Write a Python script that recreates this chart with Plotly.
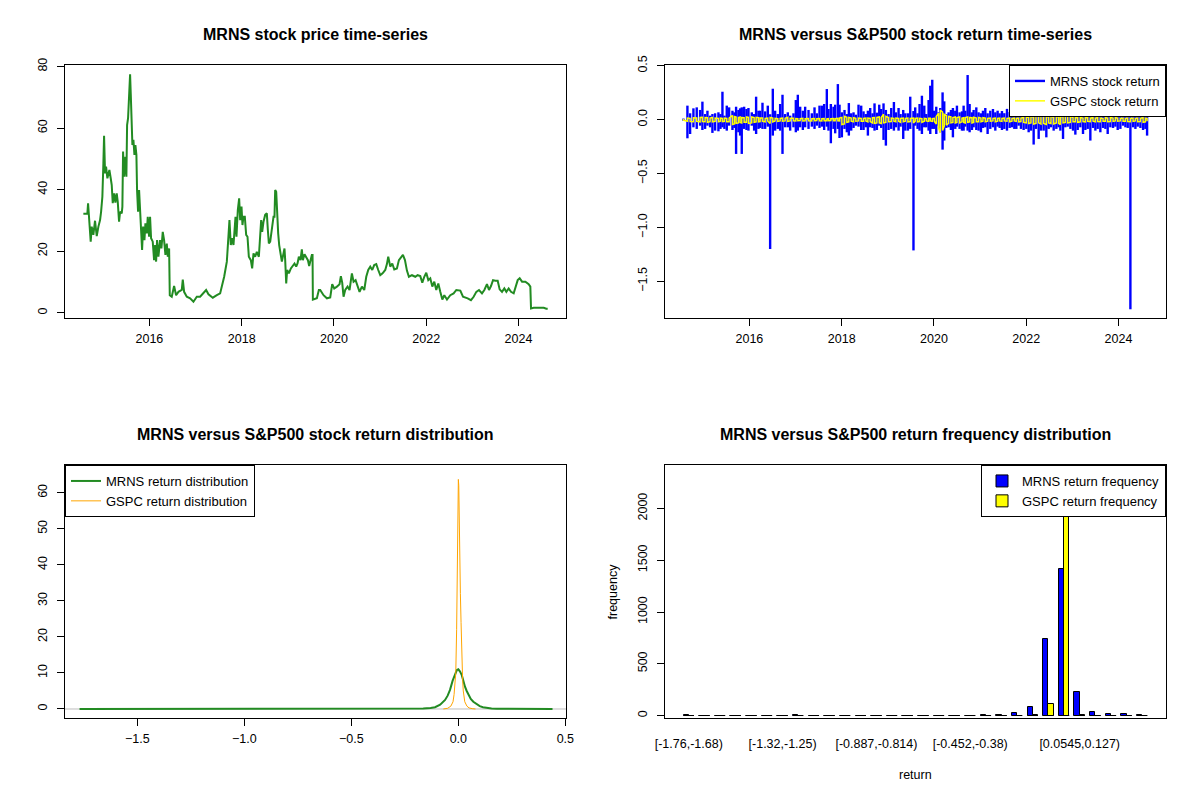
import plotly.graph_objects as go

# ---------------- data ----------------
price_years = [2014.568, 2014.655, 2014.670, 2014.691, 2014.727, 2014.749, 2014.785, 2014.821, 2014.858, 2014.894,
               2014.930, 2014.952, 2014.980, 2015.002, 2015.017, 2015.038, 2015.060, 2015.089, 2015.132, 2015.161,
               2015.183, 2015.205, 2015.234, 2015.262, 2015.291, 2015.313, 2015.342, 2015.364, 2015.400, 2015.414,
               2015.429, 2015.450, 2015.479, 2015.501, 2015.516, 2015.537, 2015.552, 2015.581, 2015.595, 2015.617,
               2015.631, 2015.653, 2015.675, 2015.696, 2015.718, 2015.732, 2015.754, 2015.776, 2015.798, 2015.819,
               2015.841, 2015.863, 2015.892, 2015.913, 2015.942, 2015.964, 2015.993, 2016.014, 2016.036, 2016.072,
               2016.101, 2016.123, 2016.145, 2016.166, 2016.195, 2016.231, 2016.260, 2016.289, 2016.318, 2016.347,
               2016.376, 2016.398, 2016.427, 2016.441, 2016.484, 2016.535, 2016.578, 2016.629, 2016.701, 2016.723,
               2016.752, 2016.810, 2016.882, 2016.954, 2017.027, 2017.099, 2017.157, 2017.229, 2017.280, 2017.374,
               2017.461, 2017.533, 2017.569, 2017.620, 2017.678, 2017.706, 2017.735, 2017.764, 2017.793, 2017.822,
               2017.844, 2017.866, 2017.887, 2017.916, 2017.945, 2017.967, 2017.996, 2018.017, 2018.039, 2018.068,
               2018.097, 2018.126, 2018.155, 2018.198, 2018.227, 2018.256, 2018.292, 2018.328, 2018.372, 2018.401,
               2018.422, 2018.444, 2018.473, 2018.509, 2018.545, 2018.567, 2018.589, 2018.618, 2018.646, 2018.668,
               2018.690, 2018.711, 2018.726, 2018.748, 2018.769, 2018.791, 2018.813, 2018.842, 2018.871, 2018.900,
               2018.928, 2018.943, 2018.965, 2018.986, 2019.022, 2019.066, 2019.109, 2019.145, 2019.181, 2019.210,
               2019.239, 2019.275, 2019.304, 2019.326, 2019.362, 2019.398, 2019.435, 2019.463, 2019.492, 2019.521,
               2019.536, 2019.543, 2019.630, 2019.673, 2019.702, 2019.774, 2019.847, 2019.919, 2019.962, 2020.006,
               2020.064, 2020.121, 2020.150, 2020.179, 2020.208, 2020.244, 2020.295, 2020.338, 2020.389, 2020.425,
               2020.469, 2020.512, 2020.555, 2020.606, 2020.657, 2020.700, 2020.743, 2020.787, 2020.830, 2020.873,
               2020.917, 2020.960, 2021.004, 2021.054, 2021.112, 2021.148, 2021.177, 2021.221, 2021.264, 2021.307,
               2021.365, 2021.408, 2021.452, 2021.495, 2021.539, 2021.582, 2021.625, 2021.691, 2021.763, 2021.813,
               2021.871, 2021.915, 2021.958, 2022.001, 2022.045, 2022.088, 2022.132, 2022.175, 2022.218, 2022.262,
               2022.305, 2022.349, 2022.392, 2022.450, 2022.522, 2022.594, 2022.652, 2022.739, 2022.797, 2022.848,
               2022.898, 2022.970, 2023.028, 2023.086, 2023.144, 2023.209, 2023.260, 2023.317, 2023.361, 2023.404,
               2023.448, 2023.498, 2023.549, 2023.592, 2023.643, 2023.693, 2023.737, 2023.787, 2023.838, 2023.896,
               2023.939, 2023.983, 2024.026, 2024.077, 2024.149, 2024.221, 2024.257, 2024.272, 2024.330, 2024.402,
               2024.474, 2024.547, 2024.604, 2024.633]
price_values = [32.2, 32.2, 35.6, 30.1, 23.1, 28.0, 25.3, 29.9, 24.9, 28.0,
                30.1, 32.8, 37.7, 48.6, 57.5, 45.3, 47.5, 43.7, 46.4, 43.7,
                41.5, 35.6, 38.8, 35.8, 38.8, 36.1, 29.6, 32.8, 32.3, 34.5,
                52.4, 44.2, 50.7, 44.2, 61.0, 63.2, 69.2, 77.5, 71.3, 60.5,
                54.5, 56.2, 51.3, 54.5, 51.3, 39.9, 32.8, 39.9, 32.8, 28.0,
                20.4, 28.0, 23.6, 29.1, 25.8, 31.2, 24.7, 31.2, 24.2, 23.1,
                17.1, 22.0, 16.6, 23.6, 18.2, 23.6, 20.9, 26.3, 23.6, 18.8,
                22.5, 18.2, 20.9, 5.7, 5.2, 8.7, 5.7, 6.8, 7.4, 10.8,
                6.8, 5.2, 4.7, 3.6, 5.2, 5.2, 6.3, 7.4, 6.0, 4.9,
                5.7, 6.3, 8.5, 11.7, 16.6, 23.6, 30.1, 22.0, 24.2, 22.0,
                27.4, 31.2, 24.7, 33.4, 37.2, 30.1, 34.5, 28.5, 31.2, 31.2,
                25.3, 24.7, 18.2, 17.1, 14.4, 19.3, 18.2, 19.8, 18.2, 24.2,
                30.1, 26.3, 29.6, 31.8, 32.3, 26.9, 22.5, 23.1, 25.8, 29.1,
                31.2, 31.2, 39.9, 39.3, 31.8, 25.8, 22.0, 19.3, 16.6, 18.8,
                20.9, 17.1, 9.5, 13.9, 12.8, 14.4, 15.5, 16.0, 15.0, 16.0,
                18.2, 17.1, 20.6, 17.1, 19.0, 18.2, 17.1, 15.2, 17.7, 18.8,
                18.8, 4.3, 4.7, 7.4, 7.4, 5.7, 4.7, 5.0, 9.3, 7.9,
                8.5, 9.3, 11.9, 9.8, 5.2, 7.4, 8.5, 7.4, 12.8, 10.1,
                10.6, 9.0, 6.8, 8.5, 7.4, 11.7, 13.9, 15.0, 13.9, 15.5,
                15.8, 13.9, 12.2, 12.8, 13.9, 15.8, 18.2, 15.0, 16.0, 14.1,
                14.4, 17.1, 18.0, 18.8, 17.1, 13.7, 11.7, 12.2, 11.7, 12.2,
                11.9, 9.8, 11.7, 13.0, 10.6, 11.2, 8.5, 10.1, 7.4, 9.5,
                6.8, 4.3, 5.7, 4.3, 5.7, 6.3, 7.4, 7.2, 5.2, 5.0,
                4.7, 4.1, 5.2, 6.8, 7.4, 6.3, 7.4, 9.3, 7.4, 8.7,
                10.6, 10.4, 10.4, 7.6, 6.8, 7.9, 6.8, 7.9, 6.8, 6.3,
                8.5, 10.6, 11.2, 10.1, 10.1, 9.3, 8.5, 1.4, 1.6, 1.6,
                1.4, 1.6, 1.3, 1.3]

ret_years = [2014.569, 2014.656, 2014.714, 2014.786, 2014.858, 2014.931, 2014.981, 2015.039, 2015.090, 2015.147,
             2015.198, 2015.256, 2015.328, 2015.372, 2015.415, 2015.458, 2015.509, 2015.560, 2015.632, 2015.675,
             2015.711, 2015.762, 2015.798, 2015.834, 2015.885, 2015.936, 2015.979, 2016.051, 2016.102, 2016.145,
             2016.196, 2016.232, 2016.283, 2016.341, 2016.398, 2016.449, 2016.507, 2016.557, 2016.615, 2016.666,
             2016.717, 2016.774, 2016.832, 2016.883, 2016.955, 2017.006, 2017.049, 2017.100, 2017.158, 2017.208,
             2017.281, 2017.353, 2017.411, 2017.461, 2017.519, 2017.570, 2017.620, 2017.678, 2017.714, 2017.765,
             2017.823, 2017.859, 2017.917, 2017.953, 2018.004, 2018.061, 2018.112, 2018.155, 2018.206, 2018.257,
             2018.307, 2018.365, 2018.423, 2018.474, 2018.524, 2018.568, 2018.618, 2018.669, 2018.712, 2018.763,
             2018.814, 2018.857, 2018.907, 2018.958, 2019.016, 2019.074, 2019.132, 2019.175, 2019.233, 2019.276,
             2019.334, 2019.378, 2019.435, 2019.486, 2019.556,
             2019.594, 2019.645, 2019.688, 2019.739, 2019.790, 2019.833, 2019.884, 2019.920, 2019.963, 2020.006,
             2020.050, 2020.100, 2020.137, 2020.187, 2020.223, 2020.267, 2020.317, 2020.368, 2020.411, 2020.462,
             2020.498, 2020.556, 2020.607, 2020.643, 2020.679, 2020.730, 2020.773, 2020.824, 2020.860, 2020.918,
             2020.968, 2021.019, 2021.062, 2021.113, 2021.163, 2021.221, 2021.279, 2021.330, 2021.380, 2021.424,
             2021.474, 2021.525, 2021.583, 2021.641, 2021.691, 2021.742, 2021.785, 2021.836, 2021.886, 2021.944,
             2022.002, 2022.053, 2022.103, 2022.161, 2022.212, 2022.270, 2022.320, 2022.378, 2022.436, 2022.487,
             2022.537, 2022.595, 2022.653, 2022.703, 2022.740, 2022.798, 2022.848, 2022.899, 2022.957, 2023.014,
             2023.065, 2023.116, 2023.173, 2023.231, 2023.282, 2023.333, 2023.390, 2023.448, 2023.499, 2023.549,
             2023.607, 2023.665, 2023.716, 2023.766, 2023.824, 2023.882, 2023.933, 2023.983, 2024.041, 2024.099,
             2024.150, 2024.200, 2024.258, 2024.316, 2024.367, 2024.417, 2024.475, 2024.533, 2024.583, 2024.620]
mrns_ret_high = [0.01, 0.130, 0.059, 0.105, 0.114, 0.090, 0.167, 0.052, 0.083, 0.037,
                 0.052, 0.059, 0.068, 0.052, 0.259, 0.037, 0.130, 0.114, 0.083, 0.068,
                 0.120, 0.090, 0.105, 0.114, 0.120, 0.099, 0.108, 0.068, 0.052, 0.213,
                 0.083, 0.083, 0.157, 0.077, 0.130, 0.050, 0.287, 0.083, 0.052, 0.145,
                 0.231, 0.052, 0.068, 0.037, 0.059, 0.182, 0.231, 0.120, 0.083, 0.120,
                 0.090, 0.059, 0.114, 0.059, 0.130, 0.130, 0.145, 0.284, 0.099, 0.145,
                 0.120, 0.139, 0.330, 0.139, 0.068, 0.090, 0.052, 0.154, 0.059, 0.068,
                 0.046, 0.139, 0.130, 0.077, 0.052, 0.083, 0.108, 0.059, 0.151, 0.065,
                 0.139, 0.099, 0.151, 0.090, 0.052, 0.108, 0.164, 0.068, 0.108, 0.052,
                 0.090, 0.059, 0.059, 0.213, 0.080,
                 0.114, 0.059, 0.145, 0.222, 0.130, 0.052, 0.182, 0.315, 0.370, 0.083,
                 0.120, 0.068, 0.108, 0.253, 0.170, 0.052, 0.068, 0.090, 0.108, 0.083,
                 0.130, 0.068, 0.077, 0.130, 0.083, 0.414, 0.145, 0.068, 0.090, 0.114,
                 0.068, 0.059, 0.083, 0.108, 0.059, 0.083, 0.099, 0.068, 0.083, 0.059,
                 0.080, 0.060, 0.100, 0.070, 0.050, 0.090, 0.060, 0.080, 0.100, 0.050,
                 0.070, 0.090, 0.060, 0.080, 0.110, 0.060, 0.070, 0.090, 0.050, 0.080,
                 0.100, 0.060, 0.070, 0.090, 0.060, 0.080, 0.050, 0.100, 0.070, 0.060,
                 0.090, 0.080, 0.060, 0.110, 0.070, 0.050, 0.090, 0.060, 0.080, 0.100,
                 0.060, 0.070, 0.090, 0.050, 0.080, 0.060, 0.100, 0.070, 0.060, 0.090,
                 0.080, 0.060, 0.050, 0.070, 0.090, 0.060, 0.080, 0.070, 0.060, 0.100]
mrns_ret_low = [-0.01, -0.173, -0.133, -0.071, -0.086, -0.056, -0.096, -0.086, -0.056, -0.071,
                -0.123, -0.102, -0.108, -0.086, -0.071, -0.086, -0.102, -0.056, -0.096, -0.077,
                -0.318, -0.117, -0.148, -0.318, -0.086, -0.096, -0.102, -0.056, -0.102, -0.133,
                -0.086, -0.077, -0.086, -0.086, -0.065, -1.200, -0.148, -0.102, -0.086, -0.102,
                -0.318, -0.071, -0.071, -0.102, -0.071, -0.117, -0.102, -0.071, -0.096, -0.071,
                -0.086, -0.065, -0.086, -0.056, -0.077, -0.065, -0.096, -0.065, -0.102, -0.219,
                -0.086, -0.127, -0.086, -0.170, -0.164, -0.086, -0.117, -0.148, -0.102, -0.077,
                -0.056, -0.065, -0.096, -0.096, -0.071, -0.148, -0.071, -0.077, -0.102, -0.096,
                -0.056, -0.077, -0.188, -0.241, -0.096, -0.086, -0.102, -0.071, -0.102, -0.065,
                -0.179, -0.102, -0.102, -0.086, -1.213,
                -0.056, -0.086, -0.102, -0.133, -0.071, -0.071, -0.102, -0.133, -0.086, -0.086,
                -0.133, -0.056, -0.117, -0.278, -0.194, -0.077, -0.071, -0.096, -0.164, -0.086,
                -0.065, -0.086, -0.102, -0.102, -0.065, -0.102, -0.117, -0.096, -0.071, -0.096,
                -0.102, -0.117, -0.077, -0.071, -0.133, -0.086, -0.071, -0.102, -0.065, -0.077,
                -0.096, -0.086, -0.102, -0.077, -0.071, -0.086, -0.086, -0.056, -0.086, -0.096,
                -0.086, -0.117, -0.102, -0.231, -0.086, -0.179, -0.102, -0.102, -0.164, -0.086,
                -0.071, -0.102, -0.086, -0.071, -0.102, -0.179, -0.071, -0.065, -0.086, -0.102,
                -0.139, -0.096, -0.071, -0.133, -0.096, -0.086, -0.194, -0.077, -0.102, -0.086,
                -0.117, -0.077, -0.086, -0.133, -0.071, -0.077, -0.065, -0.096, -0.086, -0.056,
                -0.071, -0.077, -1.759, -0.071, -0.086, -0.065, -0.077, -0.096, -0.086, -0.148]
gspc_ret_high = [0.005, 0.015, 0.012, 0.018, 0.015, 0.02, 0.022, 0.02, 0.018, 0.015,
                 0.02, 0.015, 0.012, 0.015, 0.012, 0.015, 0.012, 0.015, 0.039, 0.03,
                 0.025, 0.02, 0.025, 0.02, 0.018, 0.025, 0.022, 0.025, 0.02, 0.022,
                 0.018, 0.015, 0.015, 0.012, 0.015, 0.02, 0.015, 0.012, 0.01, 0.012,
                 0.015, 0.012, 0.022, 0.012, 0.012, 0.01, 0.008, 0.01, 0.012, 0.008,
                 0.01, 0.008, 0.01, 0.008, 0.01, 0.008, 0.01, 0.008, 0.01, 0.008,
                 0.01, 0.01, 0.012, 0.015, 0.02, 0.03, 0.022, 0.02, 0.015, 0.018,
                 0.012, 0.015, 0.012, 0.012, 0.015, 0.015, 0.012, 0.018, 0.02, 0.022,
                 0.025, 0.02, 0.05, 0.03, 0.02, 0.015, 0.012, 0.015, 0.012, 0.012,
                 0.015, 0.012, 0.015, 0.012, 0.015,
                 0.012, 0.015, 0.012, 0.01, 0.012, 0.01, 0.012, 0.012, 0.01, 0.012,
                 0.03, 0.06, 0.09, 0.07, 0.05, 0.04, 0.03, 0.025, 0.02, 0.025,
                 0.02, 0.025, 0.015, 0.018, 0.02, 0.025, 0.02, 0.018, 0.022, 0.015,
                 0.02, 0.015, 0.018, 0.015, 0.012, 0.015, 0.012, 0.015, 0.012, 0.015,
                 0.012, 0.015, 0.012, 0.015, 0.012, 0.015, 0.012, 0.015, 0.015, 0.02,
                 0.025, 0.02, 0.03, 0.025, 0.03, 0.035, 0.03, 0.035, 0.025, 0.03,
                 0.035, 0.02, 0.025, 0.03, 0.025, 0.03, 0.055, 0.025, 0.03, 0.02,
                 0.02, 0.018, 0.02, 0.015, 0.02, 0.018, 0.015, 0.018, 0.015, 0.018,
                 0.015, 0.012, 0.018, 0.015, 0.02, 0.015, 0.018, 0.015, 0.012, 0.015,
                 0.012, 0.015, 0.012, 0.015, 0.012, 0.015, 0.012, 0.018, 0.015, 0.012]
gspc_ret_low = [-0.005, -0.015, -0.018, -0.02, -0.015, -0.02, -0.018, -0.02, -0.025, -0.018,
                -0.02, -0.015, -0.02, -0.015, -0.018, -0.015, -0.02, -0.02, -0.045, -0.04,
                -0.035, -0.03, -0.025, -0.03, -0.025, -0.025, -0.035, -0.03, -0.025, -0.02,
                -0.02, -0.018, -0.015, -0.02, -0.015, -0.036, -0.02, -0.012, -0.015, -0.012,
                -0.015, -0.012, -0.015, -0.012, -0.01, -0.012, -0.01, -0.008, -0.012, -0.01,
                -0.01, -0.012, -0.01, -0.008, -0.01, -0.012, -0.01, -0.01, -0.01, -0.008,
                -0.01, -0.01, -0.01, -0.012, -0.045, -0.04, -0.025, -0.02, -0.015, -0.02,
                -0.015, -0.012, -0.015, -0.015, -0.012, -0.02, -0.018, -0.03, -0.035, -0.03,
                -0.03, -0.035, -0.03, -0.025, -0.02, -0.018, -0.015, -0.02, -0.015, -0.025,
                -0.02, -0.015, -0.02, -0.018, -0.03,
                -0.015, -0.02, -0.018, -0.025, -0.015, -0.012, -0.015, -0.012, -0.015, -0.015,
                -0.04, -0.08, -0.12, -0.1, -0.06, -0.05, -0.035, -0.03, -0.025, -0.03,
                -0.025, -0.03, -0.02, -0.025, -0.03, -0.025, -0.02, -0.03, -0.025, -0.02,
                -0.02, -0.02, -0.015, -0.02, -0.015, -0.015, -0.012, -0.02, -0.015, -0.012,
                -0.015, -0.012, -0.015, -0.02, -0.015, -0.012, -0.015, -0.02, -0.018, -0.025,
                -0.03, -0.035, -0.03, -0.04, -0.035, -0.03, -0.04, -0.035, -0.045, -0.03,
                -0.035, -0.04, -0.03, -0.035, -0.045, -0.03, -0.025, -0.03, -0.025, -0.02,
                -0.02, -0.025, -0.02, -0.018, -0.02, -0.015, -0.018, -0.015, -0.02, -0.018,
                -0.02, -0.015, -0.015, -0.02, -0.018, -0.015, -0.012, -0.015, -0.012, -0.015,
                -0.015, -0.018, -0.02, -0.015, -0.012, -0.02, -0.018, -0.025, -0.02, -0.015]

mrns_dens_x = [-1.77, -1.70, -1.25, -1.15, -0.40, -0.30, -0.25, -0.20, -0.164, -0.13, -0.109, -0.085,
               -0.062, -0.05, -0.039, -0.027, -0.015, -0.007, 0.0, 0.008, 0.016, 0.023, 0.031, 0.039,
               0.047, 0.058, 0.07, 0.085, 0.10, 0.115, 0.133, 0.155, 0.18, 0.25, 0.35, 0.44]
mrns_dens_y = [0, 0, 0, 0, 0, 0.02, 0.05, 0.08, 0.15, 0.3, 0.5, 1.2,
               2.5, 3.7, 5.3, 7.8, 9.9, 10.8, 11.0, 10.4, 9.4, 7.8, 6.2, 5.0,
               3.9, 2.8, 2.0, 1.3, 0.8, 0.5, 0.3, 0.15, 0.05, 0.02, 0.01, 0]
gspc_dens_x = [-0.07, -0.05, -0.035, -0.025, -0.02, -0.012, -0.008, -0.004, -0.002, 0.0, 0.002, 0.004,
               0.0064, 0.0095, 0.0126, 0.016, 0.02, 0.023, 0.03, 0.04, 0.05, 0.065, 0.08]
gspc_dens_y = [0.0, 0.2, 0.8, 2.0, 4.0, 10.0, 22.0, 45.0, 60.0, 63.7, 62.0, 50.0,
               37.6, 32.0, 24.0, 14.0, 8.0, 5.0, 2.0, 0.8, 0.3, 0.1, 0.0]

mrns_freq = [1, 0, 0, 0, 0, 0, 0, 2, 0, 0, 0, 0, 0, 0, 0,
             0, 0, 0, 0, 8, 3, 20, 87, 742, 1416, 228, 36, 12, 10, 1]
gspc_freq = [0, 0, 0, 0, 0, 0, 0, 0, 0, 0, 0, 0, 0, 0, 0,
             0, 0, 0, 0, 0, 0, 0, 1, 113, 2400, 8, 0, 0, 0, 0]
hist_label_bins = [1, 7, 13, 19, 26]
hist_labels = ["[-1.76,-1.68)", "[-1.32,-1.25)", "[-0.887,-0.814)", "[-0.452,-0.38)", "[0.0545,0.127)"]

year_ticks = [2016, 2018, 2020, 2022, 2024]

# ---------------- helpers ----------------
FONT = "Liberation Sans, Arial, sans-serif"
TICK_SIZE = 12.5
LEGEND_SIZE = 13
TITLE_SIZE = 16
OFF = 8  # the page body margin shifts the figure by 8 px


def strokes(xs, hi, lo):
    X, Y = [], []
    for x, h, l in zip(xs, hi, lo):
        X += [x, x, None]
        Y += [h, l, None]
    return X, Y


def zigzag(xs, hi, lo):
    X, Y = [], []
    for i, (x, h, l) in enumerate(zip(xs, hi, lo)):
        X += [x, x]
        Y += [h, l] if i % 2 == 0 else [l, h]
    return X, Y


def px_x(p):
    return (p - OFF) / 1200.0


def px_y(p):
    return 1 - (p - OFF) / 800.0


fig = go.Figure()

fig.add_trace(go.Scatter(x=price_years, y=price_values, mode="lines",
                         line=dict(color="#228B22", width=2), showlegend=False,
                         xaxis="x", yaxis="y"))

mx, my = strokes(ret_years, mrns_ret_high, mrns_ret_low)
gx, gy = zigzag(ret_years, gspc_ret_high, gspc_ret_low)
fig.add_trace(go.Scatter(x=mx, y=my, mode="lines", name="MRNS stock return", connectgaps=False,
                         line=dict(color="#0000FF", width=2.4), xaxis="x2", yaxis="y2", legend="legend"))
fig.add_trace(go.Scatter(x=gx, y=gy, mode="lines", name="GSPC stock return",
                         line=dict(color="#FFFF00", width=1.5), xaxis="x2", yaxis="y2", legend="legend"))

fig.add_trace(go.Scatter(x=mrns_dens_x, y=mrns_dens_y, mode="lines", name="MRNS return distribution",
                         line=dict(color="#228B22", width=2), xaxis="x3", yaxis="y3", legend="legend2"))
fig.add_trace(go.Scatter(x=gspc_dens_x, y=gspc_dens_y, mode="lines", name="GSPC return distribution",
                         line=dict(color="#FFA500", width=1), xaxis="x3", yaxis="y3", legend="legend2"))

n_bins = len(mrns_freq)
blue_pos = [3 * (i + 1) - 1.5 for i in range(n_bins)]
yellow_pos = [3 * (i + 1) - 0.5 for i in range(n_bins)]
dash_x, dash_y = [], []
for i in range(n_bins):
    dash_x += [3 * (i + 1) - 2, 3 * (i + 1), None]
    dash_y += [0, 0, None]
fig.add_trace(go.Scatter(x=dash_x, y=dash_y, mode="lines", line=dict(color="black", width=1),
                         showlegend=False, xaxis="x4", yaxis="y4"))
fig.add_trace(go.Bar(x=blue_pos, y=mrns_freq, width=1, name="MRNS return frequency",
                     marker=dict(color="#0000FF", line=dict(color="black", width=1)),
                     xaxis="x4", yaxis="y4", legend="legend3"))
fig.add_trace(go.Bar(x=yellow_pos, y=gspc_freq, width=1, name="GSPC return frequency",
                     marker=dict(color="#FFFF00", line=dict(color="black", width=1)),
                     xaxis="x4", yaxis="y4", legend="legend3"))

LEFT = [px_x(65), px_x(566)]
RIGHT = [px_x(665), px_x(1166)]
TOP = [px_y(318), px_y(65)]
BOTTOM = [px_y(718), px_y(465)]


def axis(domain, rng, anchor, **kw):
    d = dict(domain=domain, range=rng, anchor=anchor, showline=True, mirror=True,
             linecolor="black", linewidth=1, ticks="outside", ticklen=7, tickcolor="black",
             tickwidth=1, showgrid=False, zeroline=False, automargin=False,
             tickfont=dict(family=FONT, size=TICK_SIZE, color="black"))
    d.update(kw)
    return d


yrot = dict(tickangle=-90, ticklabelstandoff=5)
xstd = dict(ticklabelstandoff=2)


def legend_box(x, xanchor, y):
    return dict(x=x, xanchor=xanchor, y=y, yanchor="top", bgcolor="white",
                bordercolor="black", borderwidth=1, tracegroupgap=0,
                font=dict(family=FONT, size=LEGEND_SIZE, color="black"))


fig.update_layout(
    width=1200, height=800, autosize=False,
    margin=dict(l=0, r=0, t=0, b=0, pad=0),
    paper_bgcolor="white", plot_bgcolor="white",
    font=dict(family=FONT, size=12, color="black"),
    barmode="overlay", bargap=0,
    xaxis=axis(LEFT, [2014.17, 2025.03], "y", tickvals=year_ticks,
               ticktext=[str(v) for v in year_ticks], **xstd),
    yaxis=axis(TOP, [-1.7, 80.5], "x", tickvals=[0, 20, 40, 60, 80], **yrot),
    xaxis2=axis(RIGHT, [2014.17, 2025.03], "y2", tickvals=year_ticks,
                ticktext=[str(v) for v in year_ticks], **xstd),
    yaxis2=axis(TOP, [-1.84, 0.507], "x2", tickvals=[-1.5, -1.0, -0.5, 0.0, 0.5], tickformat=".1f", **yrot),
    xaxis3=axis(LEFT, [-1.838, 0.503], "y3", tickvals=[-1.5, -1.0, -0.5, 0.0, 0.5], tickformat=".1f", **xstd),
    yaxis3=axis(BOTTOM, [-2.5, 67.7], "x3", tickvals=[0, 10, 20, 30, 40, 50, 60], **yrot),
    xaxis4=axis(RIGHT, [-2.56, 93.56], "y4", ticks="", ticklabelstandoff=14,
                tickvals=[3 * b - 1 for b in hist_label_bins], ticktext=hist_labels),
    yaxis4=axis(BOTTOM, [-24, 2420], "x4", tickvals=[0, 500, 1000, 1500, 2000], **yrot),
    legend=legend_box(px_x(1166), "right", px_y(65)),
    legend2=legend_box(px_x(65), "left", px_y(465)),
    legend3=legend_box(px_x(1166), "right", px_y(465)),
)

fig.add_shape(type="line", xref="x3 domain", x0=0, x1=1, yref="y3", y0=0, y1=0,
              line=dict(color="#BEBEBE", width=1), layer="below")

titles = [
    ("MRNS stock price time-series", (65 + 566) / 2, 35),
    ("MRNS versus S&P500 stock return time-series", (665 + 1166) / 2, 35),
    ("MRNS versus S&P500 stock return distribution", (65 + 566) / 2, 435),
    ("MRNS versus S&P500 return frequency distribution", (665 + 1166) / 2, 435),
]
for text, cx, cy in titles:
    fig.add_annotation(text="<b>%s</b>" % text.replace("&", "&amp;"), xref="paper", yref="paper",
                       x=px_x(cx), y=px_y(cy), xanchor="center", yanchor="middle", showarrow=False,
                       font=dict(family=FONT, size=TITLE_SIZE, color="black"))

fig.add_annotation(text="frequency", xref="paper", yref="paper", x=px_x(612), y=px_y(591.5),
                   textangle=-90, showarrow=False, xanchor="center", yanchor="middle",
                   font=dict(family=FONT, size=TICK_SIZE, color="black"))
fig.add_annotation(text="return", xref="paper", yref="paper", x=px_x(915.5), y=px_y(775),
                   showarrow=False, xanchor="center", yanchor="middle",
                   font=dict(family=FONT, size=TICK_SIZE, color="black"))

fig.write_html("out.html")
